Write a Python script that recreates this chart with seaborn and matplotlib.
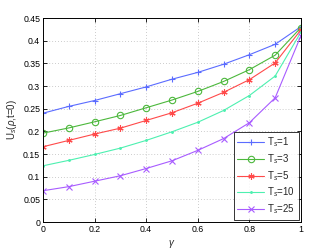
import matplotlib
matplotlib.use("Agg")
import matplotlib.pyplot as plt
import seaborn as sns
import pandas as pd

gamma = [0.0, 0.1, 0.2, 0.3, 0.4, 0.5, 0.6, 0.7, 0.8, 0.9, 1.0]
u_ts1 = [0.240, 0.255, 0.268, 0.283, 0.298, 0.315, 0.330, 0.348, 0.369, 0.392, 0.431]
u_ts3 = [0.196, 0.2075, 0.221, 0.235, 0.252, 0.269, 0.288, 0.310, 0.336, 0.368, 0.429]
u_ts5 = [0.166, 0.180, 0.194, 0.207, 0.224, 0.241, 0.262, 0.286, 0.314, 0.351, 0.424]
u_ts10 = [0.124, 0.136, 0.149, 0.163, 0.180, 0.199, 0.220, 0.246, 0.279, 0.322, 0.419]
u_ts25 = [0.069, 0.078, 0.090, 0.102, 0.118, 0.135, 0.158, 0.184, 0.219, 0.274, 0.411]
series_labels = [r"T$_s$=1", r"T$_s$=3", r"T$_s$=5", r"T$_s$=10", r"T$_s$=25"]
x_ticks = [0, 0.2, 0.4, 0.6, 0.8, 1]
x_tick_labels = ["0", "0.2", "0.4", "0.6", "0.8", "1"]
y_ticks = [0, 0.05, 0.1, 0.15, 0.2, 0.25, 0.3, 0.35, 0.4, 0.45]
y_tick_labels = ["0", "0.05", "0.1", "0.15", "0.2", "0.25", "0.3", "0.35", "0.4", "0.45"]

sns.set_style("white")
plt.rcParams["font.family"] = ["Liberation Sans", "DejaVu Sans"]
plt.rcParams["mathtext.fontset"] = "custom"
plt.rcParams["mathtext.rm"] = "Liberation Sans"
plt.rcParams["mathtext.it"] = "Liberation Sans:italic"

fig = plt.figure(figsize=(3.32, 2.5), dpi=100)
ax = fig.add_axes([0.1295, 0.112, 0.777, 0.816])

all_series = [u_ts1, u_ts3, u_ts5, u_ts10, u_ts25]
colors = ["#5b6cff", "#4cb83c", "#ff4a4a", "#4df0b0", "#a85cff"]
markers = ["+", "o", (6, 2, 0), ".", "x"]
msizes = [5, 4.6, 4.5, 2.5, 4]
fills = ["full", "none", "full", "full", "full"]

for ys, lab, c, m, ms, fl in zip(all_series, series_labels, colors, markers, msizes, fills):
    df = pd.DataFrame({"gamma": gamma, "U": ys})
    sns.lineplot(data=df, x="gamma", y="U", ax=ax, color=c, linewidth=0.8,
                 marker=m, markersize=ms, fillstyle=fl, markeredgewidth=0.8,
                 markeredgecolor=c, label=lab)

ax.set_xlim(0, 1)
ax.set_ylim(0, 0.45)
ax.set_xticks(x_ticks)
ax.set_xticklabels(x_tick_labels)
ax.set_yticks(y_ticks)
ax.set_yticklabels(y_tick_labels)
ax.tick_params(axis="both", direction="in", length=3, width=0.6, labelsize=6.3,
               colors="black", pad=2, top=True, right=True, bottom=True, left=True)
ax.grid(True, linestyle=(0, (1, 2.5)), color="#bbbbbb", linewidth=0.6)
for s in ax.spines.values():
    s.set_color("black")
    s.set_linewidth(0.7)
ax.set_xlabel(r"$\gamma$", fontsize=7, labelpad=3)
ax.set_ylabel(r"U$_s$($\rho$,t=0)", fontsize=7, labelpad=3)

leg = ax.legend(loc="lower right", fontsize=7, frameon=True, fancybox=False,
                edgecolor="black", borderpad=0.35, labelspacing=0.3,
                handlelength=2.8, handletextpad=0.3, borderaxespad=0.25)
leg.get_frame().set_linewidth(0.7)

fig.savefig("out.png", dpi=100)
